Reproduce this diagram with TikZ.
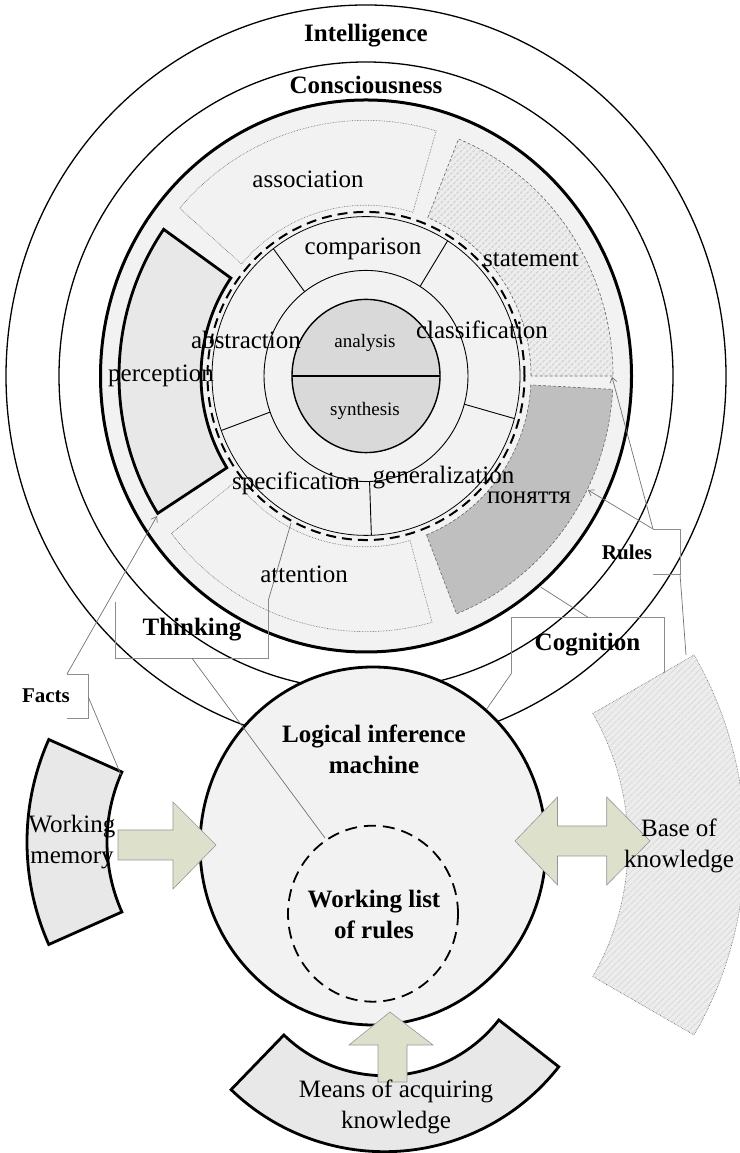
\documentclass[tikz,border=0pt]{standalone}
\usepackage{fontspec}
\setmainfont{Liberation Serif}
\usetikzlibrary{patterns.meta,arrows.meta}
\definecolor{arrowfill}{RGB}{221,225,204}
\definecolor{arrowline}{RGB}{150,150,150}
\tikzset{
  bigtext/.style={font=\fontsize{25}{31}\selectfont, inner sep=0pt, align=center},
  boldtext/.style={font=\fontsize{25}{31}\selectfont\bfseries, inner sep=0pt, align=center},
  smalltext/.style={font=\fontsize{19}{23}\selectfont, inner sep=0pt},
  smallbold/.style={font=\fontsize{21}{25}\selectfont\bfseries, inner sep=0pt},
  seg/.style={draw=black!60, densely dotted, line width=0.6pt, fill=black!5},
  hatchseg/.style={draw=black!60, densely dashed, line width=0.6pt, preaction={fill=black!7}, pattern={Lines[angle=45,distance=4.5pt,line width=1.3pt]}, pattern color=black!17},
  thickseg/.style={draw=black, line width=2.8pt, fill=black!9},
  callout/.style={draw=black!45, line width=0.8pt},
  leader/.style={draw=black!55, line width=0.7pt},
  blockarrow/.style={fill=arrowfill, draw=arrowline, line width=0.6pt},
}
\begin{document}
\begin{tikzpicture}[x=1pt,y=1pt]
\useasboundingbox (0,0) rectangle (739,1153);
\draw[line width=1.3pt] (366,777) ellipse[x radius=360, y radius=371];
\draw[line width=1.3pt] (366,777) ellipse[x radius=307, y radius=314];
\draw[line width=3pt, fill=black!5] (366,777) ellipse[x radius=265.5, y radius=276];
\begin{scope}[shift={(366,777)}, yscale=1.035]
\path[hatchseg] (0:165) arc[start angle=0, end angle=68, radius=165] -- (68:247) arc[start angle=68, end angle=0, radius=247] -- cycle;
\path[seg] (73.5:165) arc[start angle=73.5, end angle=139, radius=165] -- (139:247) arc[start angle=139, end angle=73.5, radius=247] -- cycle;
\path[thickseg] (145:165) arc[start angle=145, end angle=212.5, radius=165] -- (212.5:247) arc[start angle=212.5, end angle=145, radius=247] -- cycle;
\path[seg] (218:165) arc[start angle=218, end angle=285.5, radius=165] -- (285.5:247) arc[start angle=285.5, end angle=218, radius=247] -- cycle;
\path[seg, densely dashed, fill=black!25] (291.5:165) arc[start angle=291.5, end angle=357, radius=165] -- (357:247) arc[start angle=357, end angle=291.5, radius=247] -- cycle;
\draw[line width=2pt, dash pattern=on 10pt off 6pt] (0,0) circle[radius=158.5];
\draw[line width=0.8pt] (0,0) circle[radius=154];
\draw[line width=0.9pt] (0,0) circle[radius=102];
\foreach \a in {58,127,200,272,344.5}
  \draw[line width=0.9pt] (\a:102) -- (\a:154);
\draw[line width=1.4pt, fill=black!15] (0,0) circle[radius=74];
\draw[line width=1.6pt] (180:74) -- (0:74);
\end{scope}
\node[boldtext] (intel) at (366,1117) {Intelligence};
\node[boldtext] (consc) at (366,1068) {Consciousness};
\node[bigtext] (assoc) at (308,974) {association};
\node[bigtext] (compar) at (363,904) {comparison};
\node[bigtext] (stat) at (531,893) {statement};
\node[bigtext] (abstr) at (246,813) {abstraction};
\node[bigtext] (percep) at (161,777) {perception};
\node[bigtext] (classif) at (482,823) {classification};
\node[smalltext] (anal) at (365,810) {analysis};
\node[smalltext] (synth) at (365,742) {synthesis};
\node[bigtext] (specif) at (296,670) {specification};
\node[bigtext] (general) at (443.5,675) {generalization};
\node[bigtext] (ponyat) at (529,655) {поняття};
\node[bigtext] (atten) at (304,579) {attention};
\draw[line width=2.8pt, fill=black!5] (373,307) ellipse[x radius=173, y radius=179];
\draw[line width=1.8pt, dash pattern=on 12pt off 7pt] (373,239.3) ellipse[x radius=85, y radius=88];
\begin{scope}[shift={(279,311)}]
\path[thickseg] (156:172) arc[start angle=156, end angle=204, radius=172] -- (204:252) arc[start angle=204, end angle=156, radius=252] -- cycle;
\end{scope}
\begin{scope}[shift={(365,308)}]
\path[hatchseg, densely dotted] (-30:263) arc[start angle=-30, end angle=30, radius=263] -- (30:380) arc[start angle=30, end angle=-30, radius=380] -- cycle;
\end{scope}
\begin{scope}[shift={(384.6,222.3)}]
\path[thickseg] (226:145) arc[start angle=226, end angle=322, radius=145] -- (322:221) arc[start angle=322, end angle=226, radius=221] -- cycle;
\end{scope}
\draw[blockarrow] (118,323) -- (173,323) -- (173,351) -- (216,308) -- (173,264) -- (173,293) -- (118,293) -- cycle;
\draw[blockarrow] (515,312) -- (557.5,356) -- (557.5,327) -- (606.7,327) -- (606.7,356) -- (650,312) -- (606.7,268) -- (606.7,297) -- (557.5,297) -- (557.5,268) -- cycle;
\draw[blockarrow] (378,71) -- (378,108) -- (349,108) -- (390,141) -- (433,108) -- (407,108) -- (407,71) -- cycle;
\node[boldtext] (lim) at (374,404) {Logical inference\\machine};
\node[boldtext] (wlist) at (374,239) {Working list\\of rules};
\node[bigtext] (wmem) at (72,311) {Working\\memory};
\node[bigtext] (bknow) at (679,307) {Base of\\knowledge};
\node[bigtext] (means) at (396,46) {Means of acquiring\\knowledge};
\coordinate (percorner) at (157,637);
\coordinate (wmcorner) at (121,378);
\coordinate (stcorner) at (612,776);
\coordinate (poedge) at (588,663);
\coordinate (bkcorner) at (686,498);
\coordinate (attedge) at (291,630);
\coordinate (wlistedge) at (325,315);
\coordinate (limedge) at (486.5,443.7);
\coordinate (thickedge) at (541,565.7);
\node[smallbold] (facts) at (46,457) {Facts};
\coordinate (factsA) at (67,479);
\coordinate (factsB) at (88.3,456);
\draw[callout] (factsA) -- (88.3,479) -- (88.3,435) -- (67,435);
\draw[leader, -{Straight Barb[length=5pt,width=7pt]}] (factsA) -- (percorner);
\draw[leader] (factsB) -- (wmcorner);
\node[smallbold] (rules) at (627,601) {Rules};
\coordinate (rulesA) at (653,624);
\coordinate (rulesB) at (680,579);
\draw[callout] (rulesA) -- (680,624) -- (rulesB) -- (653,579);
\draw[leader, -{Straight Barb[length=5pt,width=7pt]}] (rulesA) -- (stcorner);
\draw[leader, -{Straight Barb[length=5pt,width=7pt]}] (rulesA) -- (poedge);
\draw[leader] (rulesB) -- (bkcorner);
\node[boldtext] (thinking) at (192,523) {Thinking};
\coordinate (thinkA) at (268.4,553);
\coordinate (thinkB) at (192,494.7);
\draw[callout] (115,551.3) -- (115,494.7) -- (268.4,494.7) -- (thinkA);
\draw[leader] (thinkA) -- (attedge);
\draw[leader] (thinkB) -- (wlistedge);
\node[boldtext] (cognition) at (587.5,508) {Cognition};
\coordinate (cognA) at (511.5,479.7);
\coordinate (cognB) at (588,535.7);
\draw[callout] (cognA) -- (511.5,535.7) -- (664.4,535.7) -- (664.4,479.7);
\draw[leader] (cognA) -- (limedge);
\draw[leader] (cognB) -- (thickedge);
\end{tikzpicture}
\end{document}
